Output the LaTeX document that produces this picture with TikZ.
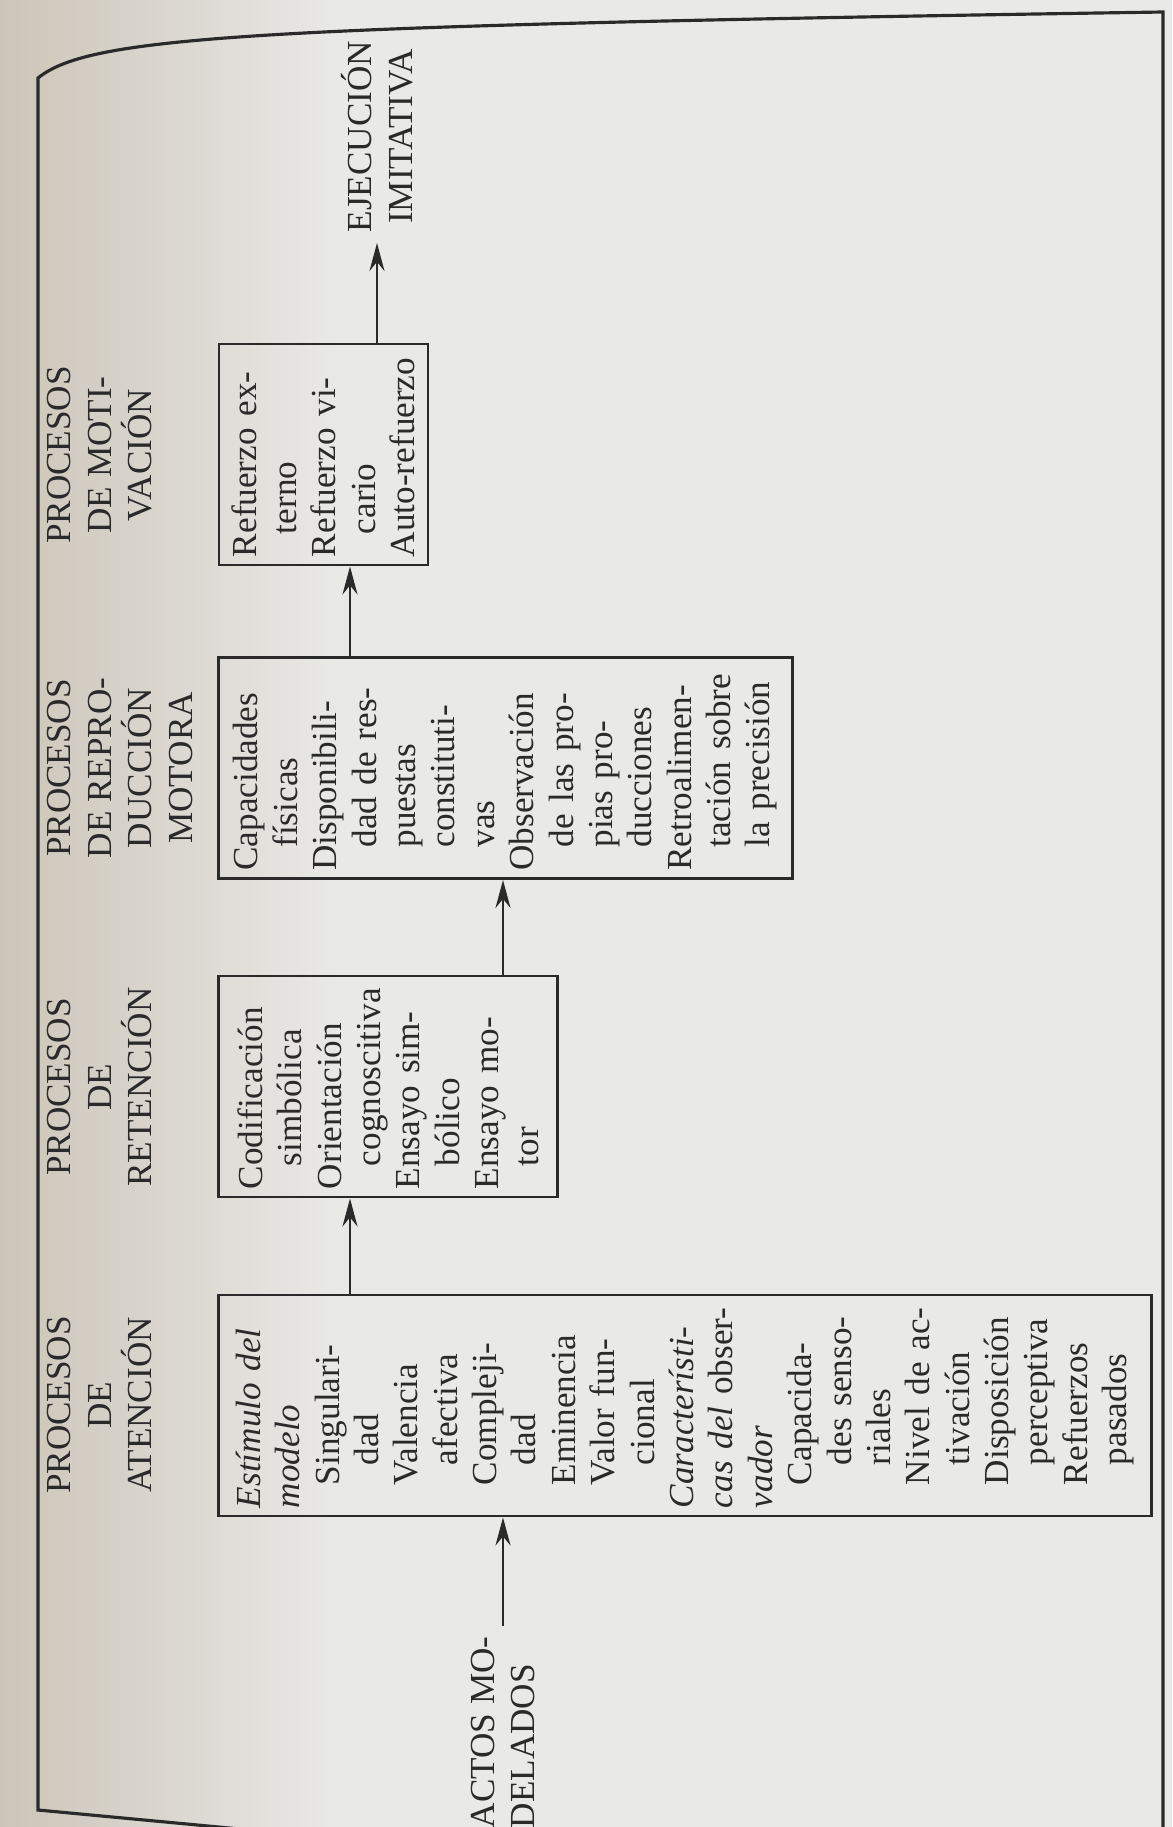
\documentclass[tikz,border=0pt]{standalone}
\usepackage{fontspec}
\setmainfont{Liberation Serif}
\usetikzlibrary{arrows.meta}
\definecolor{papel}{RGB}{233,233,231}
\definecolor{lomo}{RGB}{204,197,184}
\definecolor{tinta}{RGB}{42,42,42}
\newcommand{\sangA}{\hspace*{0.23cm}}
\newcommand{\sangB}{\hspace*{0.43cm}}
\newcommand{\letracaja}{\fontsize{10}{11.2}\selectfont}
\begin{document}
\hyphenpenalty=10000 \exhyphenpenalty=10000
\begin{tikzpicture}[x=0.01cm, y=-0.01cm, >={Stealth[length=2.8mm,width=1.5mm]},
    caja/.style={draw=tinta, line width=0.8pt, rotate=90, inner xsep=0.08cm, inner ysep=0pt,
        text width=2.05cm, minimum width=2.21cm, align=left, text=tinta, font=\letracaja},
    titulo/.style={rotate=90, inner sep=0pt, align=center, text=tinta,
        font=\fontsize{10}{11.5}\selectfont},
    flecha/.style={->, draw=tinta, line width=0.7pt}]
    \useasboundingbox (0,0) rectangle (1172,1827);
    \fill[papel] (0,0) rectangle (1172,1827);
    \shade[left color=lomo, right color=papel] (0,0) rectangle (340,1827);
    \draw[tinta, line width=0.9pt] (240,1829) -- (38,1810) -- (38,78)
        .. controls (90,36) and (250,26) .. (1163,12) -- (1163,1827);
    \coordinate (colA) at (350,0);
    % columnas de procesos
    \node[titulo, anchor=north] (tatencion) at (47,1405) {PROCESOS\\DE\\ATENCIÓN};
    \node[titulo, anchor=north] (tretencion) at (47,1087) {PROCESOS\\DE\\RETENCIÓN};
    \node[titulo, anchor=north] (treproduccion) at (47,768) {PROCESOS\\DE REPRO-\\DUCCIÓN\\MOTORA};
    \node[titulo, anchor=north] (tmotivacion) at (47,455) {PROCESOS\\DE MOTI-\\VACIÓN};
    \node[caja, minimum height=9.32cm] (atencion) at (685,1405.5) {\textit{Estímulo del}\\
        \textit{modelo}\\
        \sangA Singulari-\\ \sangB dad\\
        \sangA Valencia\\ \sangB afectiva\\
        \sangA Compleji-\\ \sangB dad\\
        \sangA Eminencia\\
        \sangA Valor fun-\\ \sangB cional\\
        \textit{Característi-}\\ \textit{cas del} obser-\\ \textit{vador}\\
        \sangA Capacida-\\ \sangB des senso-\\ \sangB riales\\
        \sangA Nivel de ac-\\ \sangB tivación\\
        \sangA Disposición\\ \sangB perceptiva\\
        \sangA Refuerzos\\ \sangB pasados};
    \node[caja, minimum height=3.38cm] (retencion) at (388,1086.5) {Codificación\\
        \sangA simbólica\\
        Orientación\\ \sangA cognoscitiva\\
        Ensayo sim-\\ \sangA bólico\\
        Ensayo mo-\\ \sangA tor};
    \node[caja, minimum height=5.73cm] (reproduccion) at (505.5,768) {Capacidades\\
        \sangA físicas\\
        Disponibili-\\ \sangA dad de res-\\ \sangA puestas\\ \sangA constituti-\\ \sangA vas\\
        Observación\\ \sangA de las pro-\\ \sangA pias pro-\\ \sangA ducciones\\
        Retroalimen-\\ \sangA tación sobre\\ \sangA la precisión};
    \node[caja, minimum height=2.09cm] (motivacion) at (323.5,454.5) {Refuerzo ex-\\
        \sangA terno\\
        Refuerzo vi-\\ \sangA cario\\
        Auto-refuerzo};
    \node[titulo, align=left, inner xsep=0.1cm, anchor=west] (actos) at (503,1839) {ACTOS MO-\\DELADOS};
    \node[titulo, inner xsep=0.1cm, anchor=west] (ejecucion) at (377,243) {EJECUCIÓN\\IMITATIVA};
    % flechas
    \draw[flecha] (actos.east) -- (actos.east |- atencion.west);
    \draw[flecha] (colA |- atencion.east) -- (colA |- retencion.west);
    \draw[flecha] (actos.east |- retencion.east) -- (actos.east |- reproduccion.west);
    \draw[flecha] (colA |- reproduccion.east) -- (colA |- motivacion.west);
    \draw[flecha] (ejecucion.west |- motivacion.east) -- (ejecucion.west);
\end{tikzpicture}
\end{document}
